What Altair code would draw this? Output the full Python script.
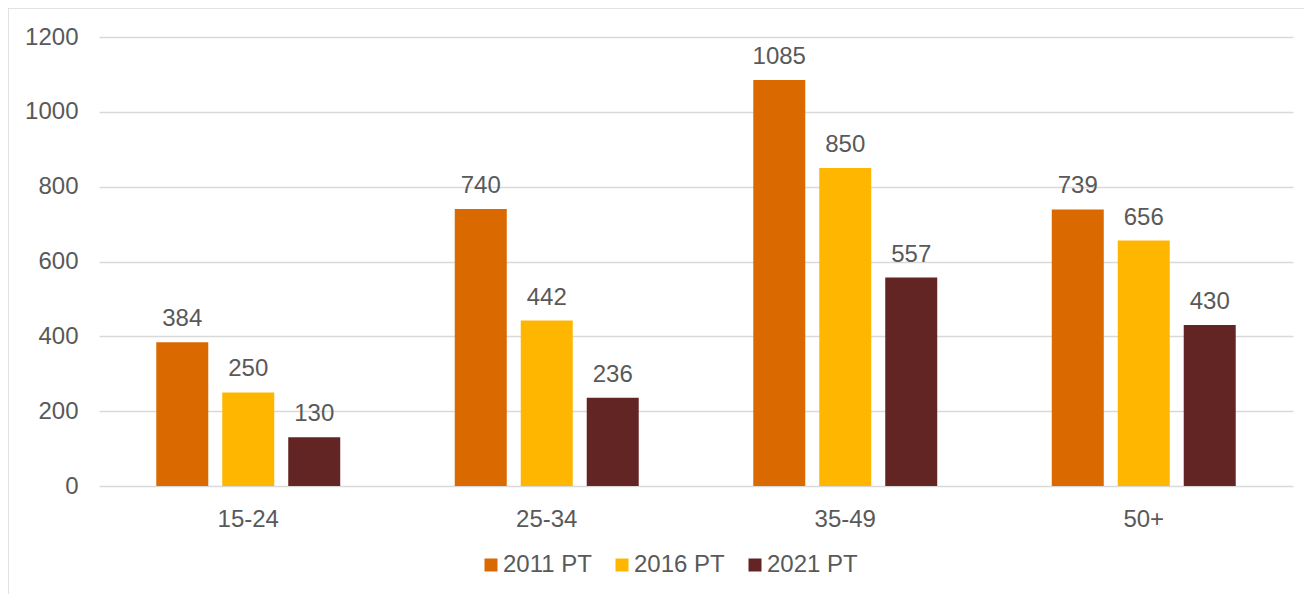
import altair as alt
import pandas as pd

categories = ["15-24", "25-34", "35-49", "50+"]
series = ["2011 PT", "2016 PT", "2021 PT"]
v2011 = [384, 740, 1085, 739]
v2016 = [250, 442, 850, 656]
v2021 = [130, 236, 557, 430]
colors = ["#DA6900", "#FFB600", "#632523"]
y_ticks = [0, 200, 400, 600, 800, 1000, 1200]

rows = []
for i, c in enumerate(categories):
    for s, vals in zip(series, [v2011, v2016, v2021]):
        rows.append({"age": c, "series": s, "value": vals[i]})
df = pd.DataFrame(rows)

FONT = "Liberation Sans"
TEXT = "#595959"
GRID = "#D9D9D9"
FS = 24

x = alt.X("age:N", sort=categories, title=None,
          scale=alt.Scale(paddingInner=0, paddingOuter=0),
          axis=alt.Axis(labelAngle=0, labelFontSize=FS, labelColor=TEXT, labelFont=FONT,
                        ticks=False, domain=False, labelPadding=21, grid=False))
xo = alt.XOffset("series:N", sort=series,
                 scale=alt.Scale(paddingInner=0.212, paddingOuter=0.868))
y = alt.Y("value:Q", title=None,
          scale=alt.Scale(domain=[0, 1200], nice=False),
          axis=alt.Axis(values=y_ticks, format="d", labelFontSize=FS, labelColor=TEXT,
                        labelFont=FONT, ticks=False, domain=False, gridColor=GRID,
                        gridWidth=1.5, labelPadding=21))

base = alt.Chart(df)
bars = base.mark_bar().encode(
    x=x, xOffset=xo, y=y,
    color=alt.Color("series:N", sort=series,
                    scale=alt.Scale(domain=series, range=colors),
                    legend=alt.Legend(orient="none", legendX=380, legendY=516,
                                      direction="horizontal", title=None,
                                      symbolType="square", symbolSize=169,
                                      symbolStrokeWidth=0,
                                      labelFontSize=FS, labelFont=FONT, labelColor=TEXT,
                                      columnPadding=18, labelOffset=0)),
)
labels = base.mark_text(baseline="bottom", dy=-11, fontSize=FS, font=FONT, color=TEXT).encode(
    x=x, xOffset=xo, y=y, text=alt.Text("value:Q")
)
border = alt.Chart(pd.DataFrame({"a": [0]})).mark_rect(
    fill=None, stroke=GRID, strokeWidth=1.5, clip=False
).encode(
    x=alt.value(-91), x2=alt.value(1400), y=alt.value(-29), y2=alt.value(700)
)

chart = alt.layer(border, bars, labels).properties(
    width=1194, height=449,
    padding={"left": 91, "top": 29, "right": 11, "bottom": 110},
    autosize=alt.AutoSizeParams(type="none"),
).configure_view(stroke=None)

chart.save("out.html", embed_options={"renderer": "svg", "actions": False})
